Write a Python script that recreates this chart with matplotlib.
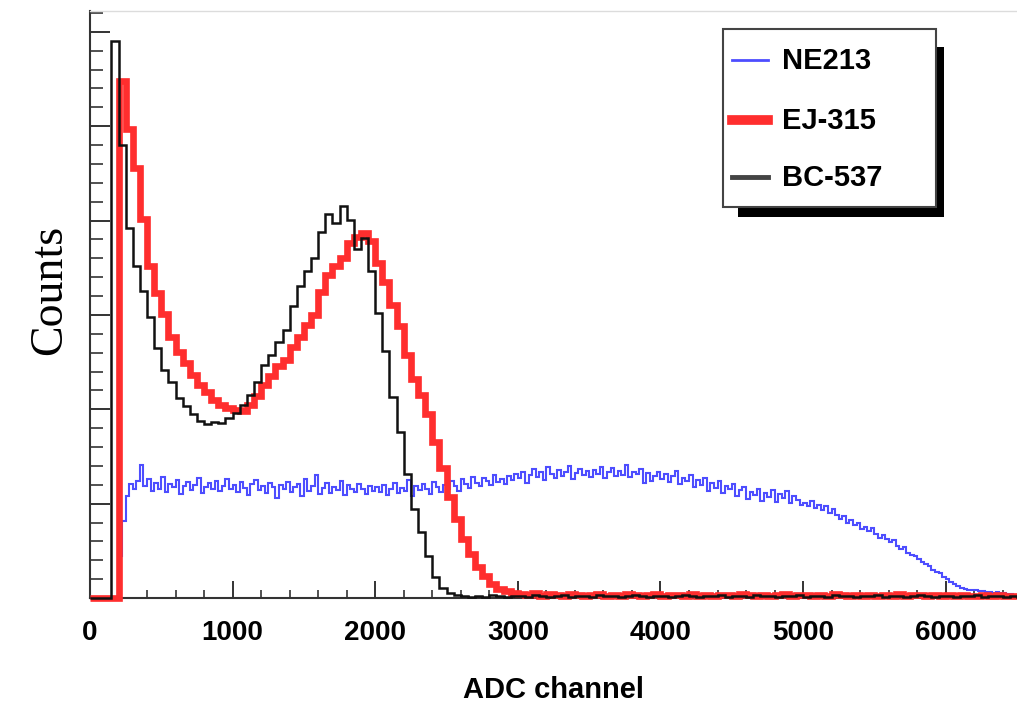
import numpy as np
import matplotlib.pyplot as plt
from matplotlib.patches import Rectangle
from matplotlib.lines import Line2D
from matplotlib.ticker import MultipleLocator

# ADC binning (channel edges)
bin_wide = 50
bin_fine = 25
adc_max = 6500

# NE213 counts, 25-channel bins starting at 0
ne213 = [
    0, 0, 0, 0, 0, 0, 0, 0, 45, 82, 108, 121, 115, 124, 141, 119, 126, 113, 122, 116,
    128, 112, 121, 118, 125, 110, 119, 123, 114, 120, 127, 111, 118, 122, 116, 124, 113, 119, 126, 115,
    120, 112, 123, 117, 109, 121, 125, 114, 119, 111, 122, 118, 106, 120, 115, 123, 112, 118, 121, 108,
    126, 113, 119, 130, 110, 117, 122, 111, 118, 114, 124, 109, 120, 116, 112, 121, 115, 110, 119, 113,
    118, 112, 120, 109, 116, 122, 111, 117, 113, 125, 108, 119, 114, 121, 116, 110, 123, 118, 112, 120,
    115, 124, 119, 113, 126, 121, 117, 128, 122, 119, 127, 124, 120, 130, 123, 126, 121, 129, 125, 131,
    127, 134, 122, 130, 137, 128, 133, 125, 139, 131, 127, 136, 129, 134, 140, 126, 132, 137, 130, 135,
    128, 136, 131, 139, 127, 133, 138, 129, 135, 130, 141, 128, 134, 131, 137, 122, 132, 124, 129, 134,
    126, 131, 123, 129, 135, 121, 127, 124, 130, 118, 125, 120, 127, 113, 122, 117, 124, 111, 119, 115,
    121, 108, 114, 118, 105, 112, 109, 116, 103, 111, 107, 114, 102, 110, 106, 113, 101, 108, 104, 99,
    101, 97, 103, 95, 99, 93, 97, 90, 94, 88, 84, 87, 80, 83, 77, 79, 73, 75, 71, 74,
    68, 64, 67, 62, 59, 61, 55, 52, 54, 48, 46, 44, 41, 38, 36, 34, 30, 28, 26, 22,
    20, 17, 15, 13, 11, 10, 9, 8, 8, 7, 7, 6, 6, 5, 6, 5, 5, 4, 4, 3,
]

# EJ-315 counts, 50-channel bins starting at 0
ej315 = [
    0, 0, 0, 0, 548, 497, 456, 402, 352, 323,
    301, 277, 261, 249, 236, 226, 218, 210, 205, 201,
    199, 198, 204, 214, 226, 235, 246, 252, 266, 277,
    289, 300, 324, 342, 352, 360, 376, 383, 387, 378,
    355, 335, 310, 288, 258, 232, 215, 195, 165, 138,
    107, 84, 63, 47, 33, 23, 15, 10, 7, 5,
    4, 3, 5, 2, 4, 3, 2, 4, 3, 2,
    3, 4, 2, 3, 2, 4, 3, 2, 3, 4,
    2, 3, 3, 2, 4, 2, 3, 2, 3, 3,
    2, 4, 3, 2, 3, 2, 3, 4, 2, 3,
    3, 2, 3, 2, 4, 3, 2, 3, 2, 3,
    2, 3, 2, 4, 2, 3, 3, 2, 3, 2,
    3, 2, 3, 2, 2, 3, 2, 3, 2, 2,
]

# BC-537 counts, 50-channel bins starting at 0
bc537 = [
    0, 0, 0, 590, 480, 392, 352, 325, 298, 265,
    242, 229, 212, 203, 195, 188, 184, 187, 185, 191,
    196, 204, 215, 229, 247, 258, 271, 284, 309, 331,
    347, 360, 388, 407, 397, 415, 401, 370, 381, 346,
    302, 262, 213, 176, 131, 94, 70, 45, 22, 11,
    5, 3, 2, 1, 2, 1, 3, 2, 1, 2,
    2, 1, 3, 2, 1, 2, 3, 1, 2, 2,
    1, 3, 2, 2, 1, 2, 3, 2, 1, 2,
    2, 1, 2, 3, 2, 1, 2, 2, 3, 1,
    2, 2, 1, 3, 2, 2, 1, 2, 2, 3,
    1, 2, 2, 1, 3, 2, 2, 1, 2, 2,
    3, 1, 2, 2, 1, 2, 3, 2, 1, 2,
    2, 1, 2, 2, 3, 1, 2, 2, 1, 2,
]

labels = ["NE213", "EJ-315", "BC-537"]
colors = ["#4d4dff", "#ff2e2e", "#111111"]

edges_fine = np.arange(0, adc_max + 1, bin_fine)
edges_wide = np.arange(0, adc_max + 1, bin_wide)

W, H = 1017, 720
fig = plt.figure(figsize=(W / 100, H / 100), dpi=100)
ax = fig.add_axes([90 / W, 1 - 598 / H, 1 - 90 / W, (598 - 11) / H])

ax.stairs(ne213, edges_fine, color=colors[0], lw=1.5, baseline=None, zorder=2)
ax.stairs(ej315, edges_wide, color=colors[1], lw=4.8, baseline=0, clip_on=False, zorder=3)
ax.stairs(bc537, edges_wide, color=colors[2], lw=1.8, baseline=0, clip_on=False, zorder=4)

ax.set_xlim(0, adc_max)
ax.set_ylim(0, 622)

ax.xaxis.set_major_locator(MultipleLocator(1000))
ax.xaxis.set_minor_locator(MultipleLocator(200))
ax.yaxis.set_major_locator(MultipleLocator(100))
ax.yaxis.set_minor_locator(MultipleLocator(20))

ax.tick_params(axis='x', which='major', direction='in', length=12, width=1.4, color='#333333', pad=16)
ax.tick_params(axis='x', which='minor', direction='in', length=6, width=1.2, color='#333333')
ax.tick_params(axis='y', which='major', direction='in', length=14.5, width=1.4, color='#333333', labelleft=False)
ax.tick_params(axis='y', which='minor', direction='in', length=9.5, width=1.2, color='#333333')

for lab in ax.get_xticklabels():
    lab.set_fontfamily('Liberation Sans')
    lab.set_fontweight('bold')
    lab.set_fontsize(20)

ax.spines['left'].set_color('#333333')
ax.spines['left'].set_linewidth(1.5)
ax.spines['bottom'].set_color('#333333')
ax.spines['bottom'].set_linewidth(1.5)
ax.spines['top'].set_color('#dcdcdc')
ax.spines['top'].set_linewidth(1.0)
ax.spines['right'].set_visible(False)

ax.text(0.5, -0.157, "ADC channel", transform=ax.transAxes, ha='center', va='center',
        fontsize=21, fontweight='bold', family='Liberation Sans')
ax.text(-0.043, 0.525, "Counts", transform=ax.transAxes, ha='center', va='center',
        rotation=90, fontsize=33, family='Liberation Serif')


# legend drawn by hand (ROOT style box with shadow)
def fp(x, y):
    return x / W, 1 - y / H


sx, sy = fp(738, 217)
fig.add_artist(Rectangle((sx, sy), (944 - 738) / W, (217 - 47) / H, transform=fig.transFigure,
                         facecolor='black', edgecolor='none', zorder=10))
bx, by = fp(723, 207)
fig.add_artist(Rectangle((bx, by), (936 - 723) / W, (207 - 29) / H, transform=fig.transFigure,
                         facecolor='white', edgecolor='#444444', lw=1.5, zorder=11))

rows = [60, 120, 177]
widths = [2.0, 7.0, 3.5]
hcolors = [colors[0], colors[1], '#444444']
for lab, yy, lw, c in zip(labels, rows, widths, hcolors):
    x0, y0 = fp(732, yy)
    x1, _ = fp(768, yy)
    fig.add_artist(Line2D([x0, x1], [y0, y0], transform=fig.transFigure, color=c, lw=lw, zorder=12))
    tx, ty = fp(782, yy + 1)
    fig.text(tx, ty, lab, ha='left', va='center', fontsize=21, fontweight='bold',
             family='Liberation Sans', zorder=12)

fig.savefig("out.png", dpi=100)
